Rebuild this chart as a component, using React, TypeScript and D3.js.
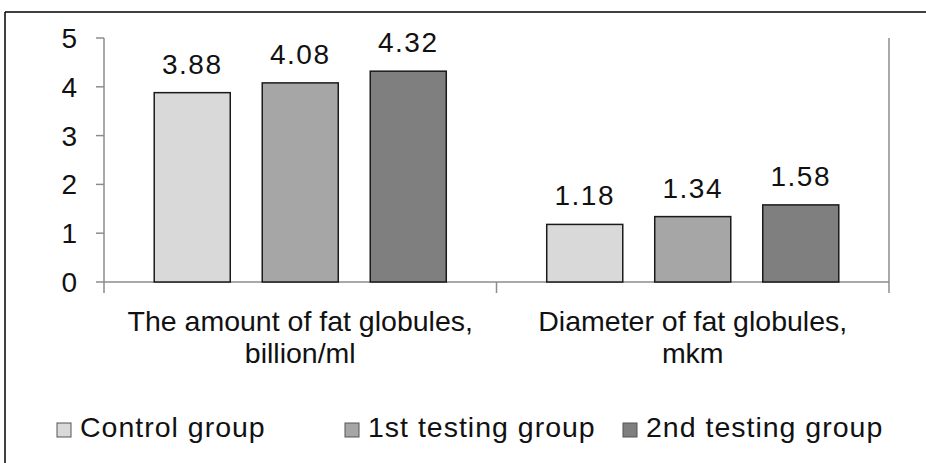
import React from "react";
import * as d3 from "d3";

// Indicators measured for each group
const categories = ["amount", "diameter"];
const categoryLines = [
  ["The amount of fat globules,", "billion/ml"],
  ["Diameter of fat globules,", "mkm"],
];
const seriesNames = ["Control group", "1st testing group", "2nd testing group"];
const seriesColors = ["#d9d9d9", "#a6a6a6", "#7f7f7f"];
const controlValues = [3.88, 1.18];
const firstTestingValues = [4.08, 1.34];
const secondTestingValues = [4.32, 1.58];
const valueLabels = [
  ["3.88", "1.18"],
  ["4.08", "1.34"],
  ["4.32", "1.58"],
];
const yTicks = [0, 1, 2, 3, 4, 5];

const seriesValues = [controlValues, firstTestingValues, secondTestingValues];

const W = 926;
const H = 463;
const FONT = "'Liberation Sans', Arial, sans-serif";

export default function App() {
  const plotLeft = 104;
  const plotRight = 889;
  const plotTop = 38;
  const plotBottom = 282;

  const y = d3.scaleLinear().domain([0, 5]).range([plotBottom, plotTop]);
  const x0 = d3.scaleBand<string>().domain(categories).range([plotLeft, plotRight]).padding(0);
  const x1 = d3
    .scaleBand<string>()
    .domain(seriesNames)
    .range([0, x0.bandwidth()])
    .paddingInner(0.296)
    .paddingOuter(0.465);

  const legendX = [57, 345, 623];
  const axisColor = "#8c8c8c";

  return (
    <div style={{ position: "fixed", left: 0, top: 0 }}>
      <svg width={W} height={H} style={{ display: "block", background: "#fff" }}>
        {/* frame */}
        <line x1={5} y1={12} x2={W} y2={12} stroke="#000" strokeWidth={1.5} />
        <line x1={5} y1={12} x2={5} y2={H} stroke="#000" strokeWidth={1.5} />

        {/* y axis */}
        <line x1={plotLeft} y1={plotTop} x2={plotLeft} y2={plotBottom + 11} stroke={axisColor} strokeWidth={1.5} />
        {yTicks.map((t) => (
          <g key={t}>
            <line x1={plotLeft - 8} x2={plotLeft} y1={y(t)} y2={y(t)} stroke={axisColor} strokeWidth={1.5} />
            <text
              x={plotLeft - 27}
              y={y(t)}
              dy="0.36em"
              textAnchor="end"
              fontFamily={FONT}
              fontSize={28}
              fill="#111"
            >
              {t}
            </text>
          </g>
        ))}

        {/* right edge of plot */}
        <line x1={plotRight} y1={plotTop} x2={plotRight} y2={plotBottom + 11} stroke={axisColor} strokeWidth={1.5} />

        {/* x axis with category separators */}
        <line x1={plotLeft} y1={plotBottom} x2={plotRight} y2={plotBottom} stroke={axisColor} strokeWidth={1.5} />
        {categories.slice(1).map((c) => (
          <line
            key={c}
            x1={x0(c)!}
            x2={x0(c)!}
            y1={plotBottom}
            y2={plotBottom + 11}
            stroke={axisColor}
            strokeWidth={1.5}
          />
        ))}

        {/* bars */}
        {seriesNames.map((s, si) =>
          categories.map((c, ci) => {
            const v = seriesValues[si][ci];
            const bx = x0(c)! + x1(s)!;
            const by = y(v);
            return (
              <g key={s + c}>
                <rect
                  x={bx}
                  y={by}
                  width={x1.bandwidth()}
                  height={plotBottom - by}
                  fill={seriesColors[si]}
                  stroke="#1a1a1a"
                  strokeWidth={1.5}
                />
                <text
                  x={bx + x1.bandwidth() / 2}
                  y={by - 19}
                  textAnchor="middle"
                  fontFamily={FONT}
                  fontSize={28}
                  letterSpacing={1.5}
                  fill="#111"
                >
                  {valueLabels[si][ci]}
                </text>
              </g>
            );
          })
        )}

        {/* category labels */}
        {categories.map((c, ci) => (
          <text
            key={c}
            textAnchor="middle"
            fontFamily={FONT}
            fontSize={28.5}
            fill="#111"
          >
            {categoryLines[ci].map((line, li) => (
              <tspan key={li} x={x0(c)! + x0.bandwidth() / 2} y={331 + li * 32}>
                {line}
              </tspan>
            ))}
          </text>
        ))}

        {/* legend */}
        {seriesNames.map((s, si) => (
          <g key={s}>
            <rect
              x={legendX[si]}
              y={423}
              width={14}
              height={14}
              fill={seriesColors[si]}
              stroke="#555"
              strokeWidth={1}
            />
            <text
              x={legendX[si] + 23}
              y={437}
              fontFamily={FONT}
              fontSize={28.5}
              letterSpacing={1}
              fill="#111"
            >
              {s}
            </text>
          </g>
        ))}
      </svg>
    </div>
  );
}
